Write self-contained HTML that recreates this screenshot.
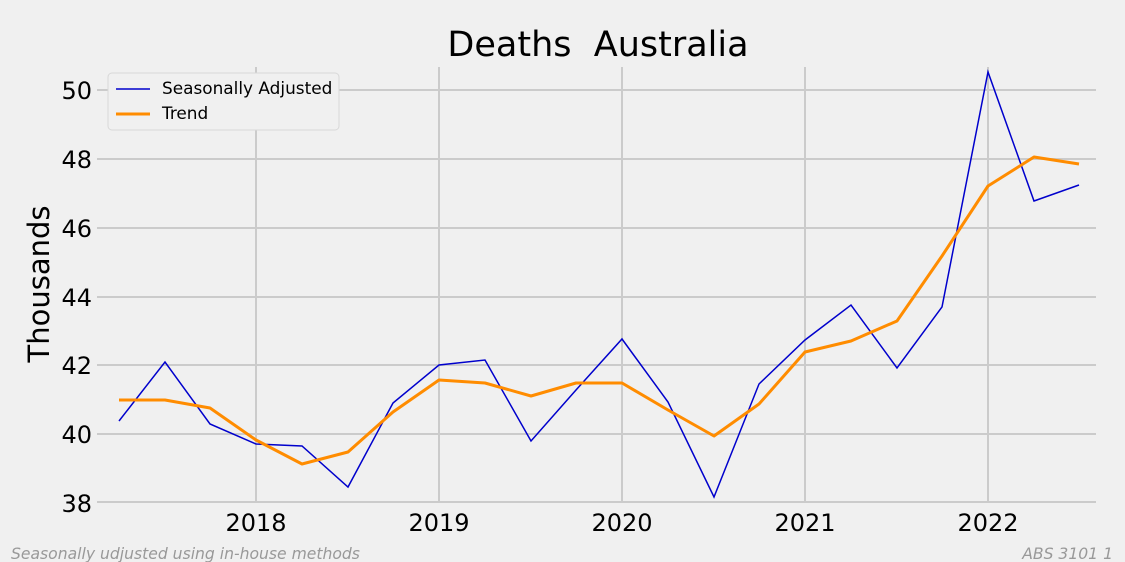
<!DOCTYPE html>
<html><head><meta charset="utf-8"><style>
html,body{margin:0;padding:0;background:#f0f0f0;}
svg{display:block;font-family:"DejaVu Sans","Liberation Sans",sans-serif;}
</style></head><body>
<svg width="1125" height="562" viewBox="0 0 1125 562" xmlns="http://www.w3.org/2000/svg">
<rect width="1125" height="562" fill="#f0f0f0"/>
<g stroke="#cbcbcb" stroke-width="2">
<line x1="97" x2="1096" y1="90" y2="90"/>
<line x1="97" x2="1096" y1="159" y2="159"/>
<line x1="97" x2="1096" y1="228" y2="228"/>
<line x1="97" x2="1096" y1="297" y2="297"/>
<line x1="97" x2="1096" y1="365" y2="365"/>
<line x1="97" x2="1096" y1="434" y2="434"/>
<line x1="97" x2="1096" y1="502" y2="502"/>
<line x1="256" x2="256" y1="67" y2="502"/>
<line x1="439" x2="439" y1="67" y2="502"/>
<line x1="622" x2="622" y1="67" y2="502"/>
<line x1="805" x2="805" y1="67" y2="502"/>
<line x1="988" x2="988" y1="67" y2="502"/>
</g>
<text x="598" y="56" font-size="35" text-anchor="middle" fill="#000">Deaths&#160; Australia</text>
<g font-size="24" fill="#000" text-anchor="end">
<text x="92" y="99">50</text><text x="92" y="168">48</text><text x="92" y="237">46</text>
<text x="92" y="306">44</text><text x="92" y="374">42</text><text x="92" y="443">40</text>
<text x="92" y="512">38</text>
</g>
<g font-size="24" fill="#000" text-anchor="middle">
<text x="256" y="531">2018</text><text x="439" y="531">2019</text><text x="622" y="531">2020</text>
<text x="805" y="531">2021</text><text x="988" y="531">2022</text>
</g>
<text transform="translate(49,284) rotate(-90)" font-size="29" text-anchor="middle" fill="#000">Thousands</text>
<polyline fill="none" stroke="#0000cc" stroke-width="1.5" points="119,421 165,362 210,424 256,444 302,446 348,487 393,403 439,365 485,360 531,441 576,390 622,339 668,402 714,497 759,384 805,340 851,305 897,368 942,307 988,72 1034,201 1079,185"/>
<polyline fill="none" stroke="#ff8c00" stroke-width="3" stroke-linejoin="round" points="119,400 165,400 210,408 256,440 302,464 348,452 393,412 439,380 485,383 531,396 576,383 622,383 668,410 714,436 759,404 805,352 851,341 897,321 942,256 988,186 1034,157 1079,164"/>
<rect x="108" y="73" width="231" height="57" rx="4" fill="#f0f0f0" stroke="#d8d8d8"/>
<line x1="116" x2="150" y1="89" y2="89" stroke="#0000cc" stroke-width="1.5"/>
<line x1="116" x2="150" y1="114" y2="114" stroke="#ff8c00" stroke-width="3"/>
<text x="162" y="94" font-size="16.9" fill="#000">Seasonally Adjusted</text>
<text x="162" y="119" font-size="16.9" fill="#000">Trend</text>
<text x="11" y="559" font-size="15.6" font-style="italic" fill="#999">Seasonally udjusted using in-house methods</text>
<text x="1113" y="559" font-size="15.6" font-style="italic" fill="#999" text-anchor="end">ABS 3101 1</text>
</svg>
</body></html>
